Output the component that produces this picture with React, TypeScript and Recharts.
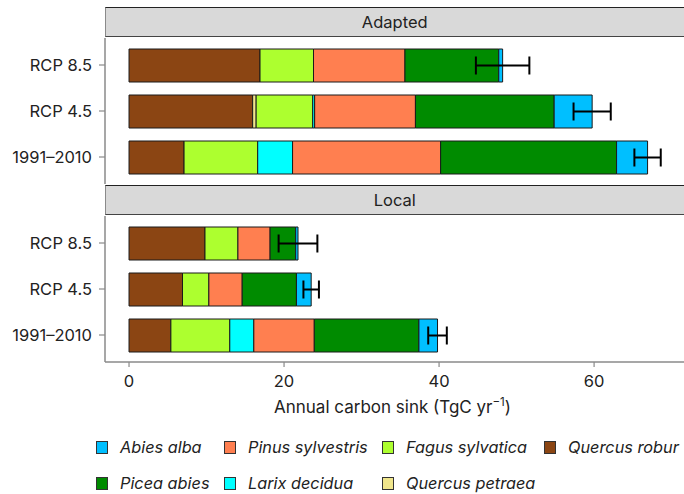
import React from 'react';
import { BarChart, Bar, XAxis, YAxis, ErrorBar } from 'recharts';

const scenarios = ['RCP 8.5', 'RCP 4.5', '1991–2010'];
const xTicks = [0, 20, 40, 60];
const panelTitles = ['Adapted', 'Local'];

const speciesKeys = ['quercusRobur', 'quercusPetraea', 'fagusSylvatica', 'larixDecidua', 'pinusSylvestris', 'piceaAbies', 'abiesAlba'];
const speciesNames = ['Quercus robur', 'Quercus petraea', 'Fagus sylvatica', 'Larix decidua', 'Pinus sylvestris', 'Picea abies', 'Abies alba'];
const speciesColors = ['#8B4513', '#F0E68C', '#ADFF2F', '#00FFFF', '#FF7F50', '#008B00', '#00BFFF'];

// Adapted panel (rows: RCP 8.5, RCP 4.5, 1991–2010)
const adaptedQuercusRobur = [16.9, 15.95, 7.1];
const adaptedQuercusPetraea = [0, 0.45, 0];
const adaptedFagusSylvatica = [6.9, 7.3, 9.5];
const adaptedLarixDecidua = [0, 0.25, 4.5];
const adaptedPinusSylvestris = [11.8, 13.0, 19.1];
const adaptedPiceaAbies = [12.1, 17.9, 22.7];
const adaptedAbiesAlba = [0.5, 4.9, 4.0];
const adaptedError = [3.45, 2.4, 1.7];

// Local panel
const localQuercusRobur = [9.8, 6.9, 5.4];
const localQuercusPetraea = [0, 0, 0];
const localFagusSylvatica = [4.25, 3.4, 7.6];
const localLarixDecidua = [0, 0, 3.1];
const localPinusSylvestris = [4.15, 4.3, 7.8];
const localPiceaAbies = [3.3, 7.0, 13.5];
const localAbiesAlba = [0.3, 1.9, 2.4];
const localError = [2.5, 1.0, 1.2];

// legend order (two rows)
const legendRow1 = ['Abies alba', 'Pinus sylvestris', 'Fagus sylvatica', 'Quercus robur'];
const legendRow2 = ['Picea abies', 'Larix decidua', 'Quercus petraea'];

const buildRows = (series: number[][], err: number[]) =>
  scenarios.map((s, i) => {
    const row: any = { scenario: s, err: err[i] };
    speciesKeys.forEach((k, j) => {
      row[k] = series[j][i];
    });
    return row;
  });

const adaptedData = buildRows(
  [adaptedQuercusRobur, adaptedQuercusPetraea, adaptedFagusSylvatica, adaptedLarixDecidua, adaptedPinusSylvestris, adaptedPiceaAbies, adaptedAbiesAlba],
  adaptedError
);
const localData = buildRows(
  [localQuercusRobur, localQuercusPetraea, localFagusSylvatica, localLarixDecidua, localPinusSylvestris, localPiceaAbies, localAbiesAlba],
  localError
);

const FONT = 'Inter, "Noto Sans", sans-serif';
const AXIS_GREY = '#8a8a8a';
const W = 684;
const PANEL_H = 146;
const DOMAIN: [number, number] = [-3.1, 71.6];

const Strip = ({ title, top }: { title: string; top: number }) => (
  <div
    style={{
      position: 'absolute',
      left: 104.5,
      top,
      width: W - 104.5,
      height: 30,
      background: '#d9d9d9',
      borderTop: '1.5px solid #222',
      borderBottom: '1.5px solid #444',
      borderLeft: `1.5px solid ${AXIS_GREY}`,
      boxSizing: 'border-box',
      display: 'flex',
      alignItems: 'center',
      justifyContent: 'center',
      fontSize: 16.5,
      color: '#222',
      fontFamily: FONT,
    }}
  >
    {title}
  </div>
);

const renderBars = () =>
  speciesKeys.map((k, j) => (
    <Bar
      key={k}
      dataKey={k}
      stackId="a"
      fill={speciesColors[j]}
      stroke="#1a1a1a"
      strokeWidth={1}
      isAnimationActive={false}
    >
      {k === 'abiesAlba' ? (
        <ErrorBar dataKey="err" direction="x" width={9} stroke="#000" strokeWidth={2} isAnimationActive={false} />
      ) : null}
    </Bar>
  ));

const LegendItem = ({ name, left, top }: { name: string; left: number; top: number }) => {
  const idx = speciesNames.indexOf(name);
  return (
    <div style={{ position: 'absolute', left, top, height: 20, display: 'flex', alignItems: 'center' }}>
      <div
        style={{
          width: 12,
          height: 13,
          background: speciesColors[idx],
          border: '1px solid #333',
          boxSizing: 'border-box',
          marginRight: 12,
        }}
      />
      <span style={{ fontStyle: 'italic', fontSize: 16.3, color: '#222', fontFamily: FONT, whiteSpace: 'nowrap' }}>{name}</span>
    </div>
  );
};

const legendCols = [96, 224, 382, 544];

const yAxisProps = {
  type: 'category' as const,
  dataKey: 'scenario',
  width: 105,
  padding: { top: 4, bottom: 4 },
  axisLine: { stroke: AXIS_GREY, strokeWidth: 1.5 },
  tickLine: { stroke: AXIS_GREY, strokeWidth: 1.2 },
  tickSize: 6,
  tickMargin: 7,
  tick: { fill: '#222', fontSize: 16.5, fontFamily: FONT },
};

export default function App() {
  return (
    <div style={{ position: 'absolute', left: 0, top: 0, width: W, height: 494, background: '#fff', fontFamily: FONT }}>
      <Strip title={panelTitles[0]} top={7} />
      <div style={{ position: 'absolute', left: 0, top: 38 }}>
        <BarChart width={W} height={PANEL_H} data={adaptedData} layout="vertical" barSize={33} margin={{ top: 0, right: 0, bottom: 0, left: 0 }}>
          <XAxis type="number" hide domain={DOMAIN} allowDataOverflow ticks={xTicks} />
          <YAxis {...yAxisProps} />
          {renderBars()}
        </BarChart>
      </div>
      <Strip title={panelTitles[1]} top={185} />
      <div style={{ position: 'absolute', left: 0, top: 216 }}>
        <BarChart width={W} height={PANEL_H + 60} data={localData} layout="vertical" barSize={33} margin={{ top: 0, right: 0, bottom: 0, left: 0 }}>
          <XAxis
            type="number"
            domain={DOMAIN}
            allowDataOverflow
            ticks={xTicks}
            height={60}
            axisLine={{ stroke: AXIS_GREY, strokeWidth: 1.5 }}
            tickLine={{ stroke: AXIS_GREY, strokeWidth: 1.2 }}
            tickSize={5}
            tickMargin={8}
            tick={{ fill: '#222', fontSize: 16.5, fontFamily: FONT }}
            label={(p: any) => {
              const vb = p.viewBox || {};
              return (
                <text x={vb.x + vb.width / 2 - 2} y={412.5 - 216} textAnchor="middle" fontSize={17} fill="#222" fontFamily={FONT}>
                  Annual carbon sink (TgC yr
                  <tspan dy={-7} fontSize={11.5}>−1</tspan>
                  <tspan dy={7}>)</tspan>
                </text>
              );
            }}
          />
          <YAxis {...yAxisProps} />
          {renderBars()}
        </BarChart>
      </div>
      {legendRow1.map((n, i) => (
        <LegendItem key={n} name={n} left={legendCols[i]} top={437} />
      ))}
      {legendRow2.map((n, i) => (
        <LegendItem key={n} name={n} left={legendCols[i]} top={473} />
      ))}
    </div>
  );
}
